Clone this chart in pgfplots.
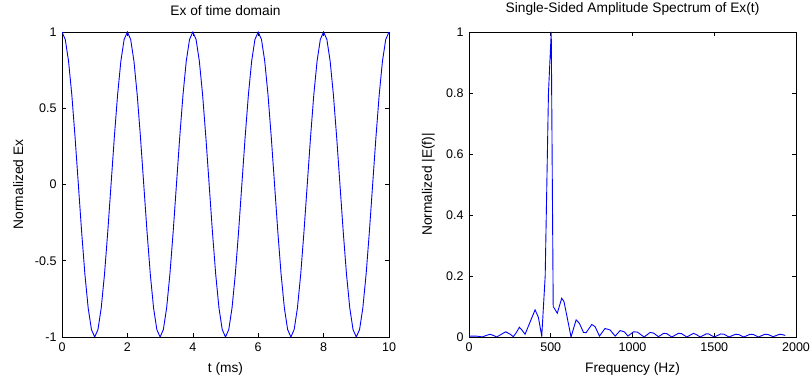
\documentclass[border=0pt]{standalone}
\usepackage{pgfplots}
\pgfplotsset{compat=1.18}
\usepackage{pgfplotstable}
\usepackage{fontspec}
\setmainfont{Liberation Sans}
\pgfplotstableread{
t y
0.0 1
0.1 0.9511
0.2 0.8090
0.3 0.5878
0.4 0.3090
0.5 0
0.6 -0.3090
0.7 -0.5878
0.8 -0.8090
0.9 -0.9511
1.0 -1
1.1 -0.9511
1.2 -0.8090
1.3 -0.5878
1.4 -0.3090
1.5 0
1.6 0.3090
1.7 0.5878
1.8 0.8090
1.9 0.9511
2.0 1
2.1 0.9511
2.2 0.8090
2.3 0.5878
2.4 0.3090
2.5 0
2.6 -0.3090
2.7 -0.5878
2.8 -0.8090
2.9 -0.9511
3.0 -1
3.1 -0.9511
3.2 -0.8090
3.3 -0.5878
3.4 -0.3090
3.5 0
3.6 0.3090
3.7 0.5878
3.8 0.8090
3.9 0.9511
4.0 1
4.1 0.9511
4.2 0.8090
4.3 0.5878
4.4 0.3090
4.5 0
4.6 -0.3090
4.7 -0.5878
4.8 -0.8090
4.9 -0.9511
5.0 -1
5.1 -0.9511
5.2 -0.8090
5.3 -0.5878
5.4 -0.3090
5.5 0
5.6 0.3090
5.7 0.5878
5.8 0.8090
5.9 0.9511
6.0 1
6.1 0.9511
6.2 0.8090
6.3 0.5878
6.4 0.3090
6.5 0
6.6 -0.3090
6.7 -0.5878
6.8 -0.8090
6.9 -0.9511
7.0 -1
7.1 -0.9511
7.2 -0.8090
7.3 -0.5878
7.4 -0.3090
7.5 0
7.6 0.3090
7.7 0.5878
7.8 0.8090
7.9 0.9511
8.0 1
8.1 0.9511
8.2 0.8090
8.3 0.5878
8.4 0.3090
8.5 0
8.6 -0.3090
8.7 -0.5878
8.8 -0.8090
8.9 -0.9511
9.0 -1
9.1 -0.9511
9.2 -0.8090
9.3 -0.5878
9.4 -0.3090
9.5 0
9.6 0.3090
9.7 0.5878
9.8 0.8090
9.9 0.9511
10.0 1
}\timedata
\pgfplotstableread{
f a
0 0.003
20 0.003
40 0.003
60 0.002
80 0.000
100 0.004
128 0.009
150 0.005
169 0.000
195 0.008
224 0.017
250 0.010
271 0.001
290 0.015
308 0.032
325 0.022
343 0.009
404 0.089
424 0.065
445 0.003
466 0.200
486 0.800
503 1.000
515 0.100
540 0.078
567 0.127
581 0.116
602 0.060
624 0.000
655 0.056
675 0.045
700 0.015
716 0.014
751 0.041
771 0.034
798 0.003
832 0.028
863 0.023
894 0.003
924 0.021
950 0.017
972 0.003
1006 0.017
1030 0.016
1071 0.000
1108 0.015
1128 0.013
1159 0.001
1190 0.012
1210 0.011
1240 0.000
1281 0.012
1300 0.011
1332 0.000
1373 0.012
1390 0.008
1414 0.000
1450 0.010
1465 0.010
1500 0.000
1540 0.010
1560 0.009
1590 0.000
1630 0.009
1650 0.008
1680 0.000
1720 0.009
1740 0.008
1770 0.000
1810 0.009
1830 0.008
1860 0.001
1900 0.009
1915 0.008
1934 0.005
}\specdata
\pgfplotsset{
  mystyle/.style={
    scale only axis,
    width=327pt, height=305pt,
    anchor=south west,
    axis line style={black, line width=0.8pt},
    tick style={black, line width=0.6pt},
    tick align=inside,
    major tick length=4pt,
    xtick pos=both, ytick pos=both,
    ticklabel style={font=\fontsize{12.5}{14}\selectfont},
    label style={font=\fontsize{13.75}{16}\selectfont},
    title style={font=\fontsize{13.75}{16}\selectfont, at={(0.5,1)}, anchor=south, inner sep=0pt, yshift=10pt},
    xlabel style={at={(axis description cs:0.5,0)}, anchor=north, inner sep=0pt, yshift=-25pt},
    ylabel style={anchor=south, inner sep=0pt},
    xticklabel style={yshift=-2pt},
    yticklabel style={xshift=-2pt},
    /pgf/number format/assume math mode=true,
  }
}
\begin{document}
\begin{tikzpicture}
\useasboundingbox (0,0) rectangle (810pt,377pt);
\begin{axis}[mystyle,
  at={(62pt,40pt)},
  xmin=0, xmax=10, ymin=-1, ymax=1,
  xtick={0,2,4,6,8,10},
  xticklabels={0,2,4,6,8,10},
  ytick={-1,-0.5,0,0.5,1},
  yticklabels={-1,-0.5,0,0.5,1},
  title={Ex of time domain},
  xlabel={t (ms)},
  ylabel={Normalized Ex},
  ylabel style={at={(axis description cs:-0.118,0.5)}},
]
\addplot[blue, line width=0.9pt] table[x=t,y=y] {\timedata};
\end{axis}
\begin{axis}[mystyle,
  at={(469pt,40pt)},
  xmin=0, xmax=2000, ymin=0, ymax=1,
  xtick={0,500,1000,1500,2000},
  xticklabels={0,500,1000,1500,2000},
  ytick={0,0.2,0.4,0.6,0.8,1},
  yticklabels={0,0.2,0.4,0.6,0.8,1},
  title={Single-Sided Amplitude Spectrum of Ex(t)},
  xlabel={Frequency (Hz)},
  ylabel={Normalized |E(f)|},
  ylabel style={at={(axis description cs:-0.104,0.5)}},
]
\addplot[blue, line width=0.9pt] table[x=f,y=a] {\specdata};
\end{axis}
\end{tikzpicture}
\end{document}
